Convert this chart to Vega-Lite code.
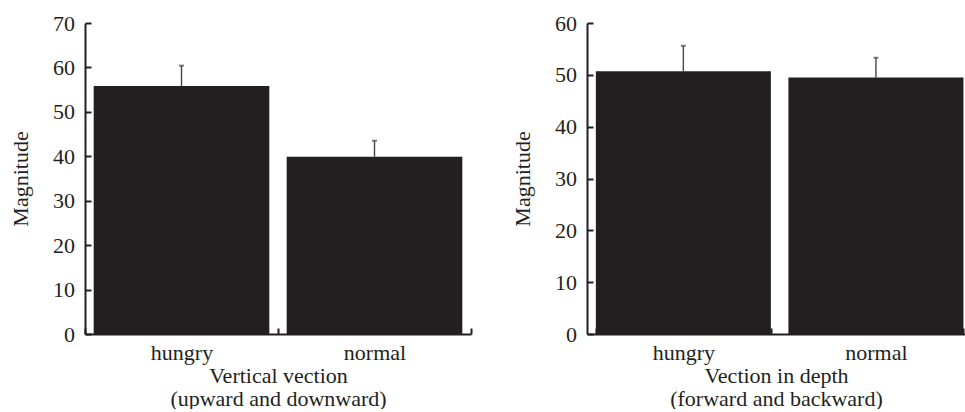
{
  "$schema": "https://vega.github.io/schema/vega-lite/v6.json",
  "padding": {"left": 9, "top": 12, "right": 0, "bottom": 0},
  "background": "white",
  "config": {
    "font": "Liberation Serif",
    "view": {"stroke": null},
    "axis": {
      "labelFont": "Liberation Serif", "titleFont": "Liberation Serif",
      "labelFontSize": 22, "titleFontSize": 22,
      "labelColor": "#231f20", "titleColor": "#231f20", "titleFontWeight": "normal",
      "domainColor": "#231f20", "tickColor": "#231f20", "domainWidth": 2, "tickWidth": 2,
      "grid": false
    },
    "concat": {"spacing": 39}
  },
  "datasets": {
    "vertical": [
      {"condition": "hungry", "magnitude": 55.8, "upper": 60.4},
      {"condition": "normal", "magnitude": 39.9, "upper": 43.5}
    ],
    "depth": [
      {"condition": "hungry", "magnitude": 50.7, "upper": 55.6},
      {"condition": "normal", "magnitude": 49.5, "upper": 53.3}
    ]
  },
  "hconcat": [
    {
      "width": 386, "height": 311,
      "data": {"name": "vertical"},
      "encoding": {
        "x": {"field": "condition", "type": "nominal",
          "scale": {"paddingInner": 0, "paddingOuter": 0},
          "axis": {"title": ["Vertical vection", "(upward and downward)"], "labelAngle": 0, "tickBand": "extent", "tickSize": -6, "labelPadding": 14, "titlePadding": 2, "titleLineHeight": 23}}
      },
      "layer": [
        {"mark": {"type": "bar", "color": "#231f20", "width": {"band": 0.91}},
         "encoding": {"y": {"field": "magnitude", "type": "quantitative", "scale": {"domain": [0, 70], "nice": false},
           "axis": {"title": "Magnitude", "values": [0, 10, 20, 30, 40, 50, 60, 70], "tickSize": -6, "labelPadding": 16.5, "titlePadding": 20.5}}}},
        {"mark": {"type": "rule", "color": "#444444", "strokeWidth": 1.4},
         "encoding": {"y": {"field": "magnitude", "type": "quantitative", "axis": {"title": "Magnitude", "values": [0, 10, 20, 30, 40, 50, 60, 70], "tickSize": -6, "labelPadding": 16.5, "titlePadding": 20.5}}, "y2": {"field": "upper"}}},
        {"mark": {"type": "tick", "color": "#444444", "thickness": 2, "size": 5},
         "encoding": {"y": {"field": "upper", "type": "quantitative", "axis": {"title": "Magnitude", "values": [0, 10, 20, 30, 40, 50, 60, 70], "tickSize": -6, "labelPadding": 16.5, "titlePadding": 20.5}}}}
      ]
    },
    {
      "width": 378, "height": 311,
      "data": {"name": "depth"},
      "encoding": {
        "x": {"field": "condition", "type": "nominal",
          "scale": {"paddingInner": 0.091, "paddingOuter": 0.027, "align": 0.85},
          "axis": {"title": ["Vection in depth", "(forward and backward)"], "labelAngle": 0, "tickBand": "extent", "tickOffset": -8.7, "tickSize": -6, "labelPadding": 14, "titlePadding": 2, "titleLineHeight": 23}}
      },
      "layer": [
        {"mark": {"type": "bar", "color": "#231f20"},
         "encoding": {"y": {"field": "magnitude", "type": "quantitative", "scale": {"domain": [0, 60], "nice": false},
           "axis": {"title": "Magnitude", "values": [0, 10, 20, 30, 40, 50, 60], "tickSize": -6, "labelPadding": 16.5, "titlePadding": 20.5}}}},
        {"mark": {"type": "rule", "color": "#444444", "strokeWidth": 1.4},
         "encoding": {"y": {"field": "magnitude", "type": "quantitative", "axis": {"title": "Magnitude", "values": [0, 10, 20, 30, 40, 50, 60], "tickSize": -6, "labelPadding": 16.5, "titlePadding": 20.5}}, "y2": {"field": "upper"}}},
        {"mark": {"type": "tick", "color": "#444444", "thickness": 2, "size": 5},
         "encoding": {"y": {"field": "upper", "type": "quantitative", "axis": {"title": "Magnitude", "values": [0, 10, 20, 30, 40, 50, 60], "tickSize": -6, "labelPadding": 16.5, "titlePadding": 20.5}}}}
      ]
    }
  ]
}
